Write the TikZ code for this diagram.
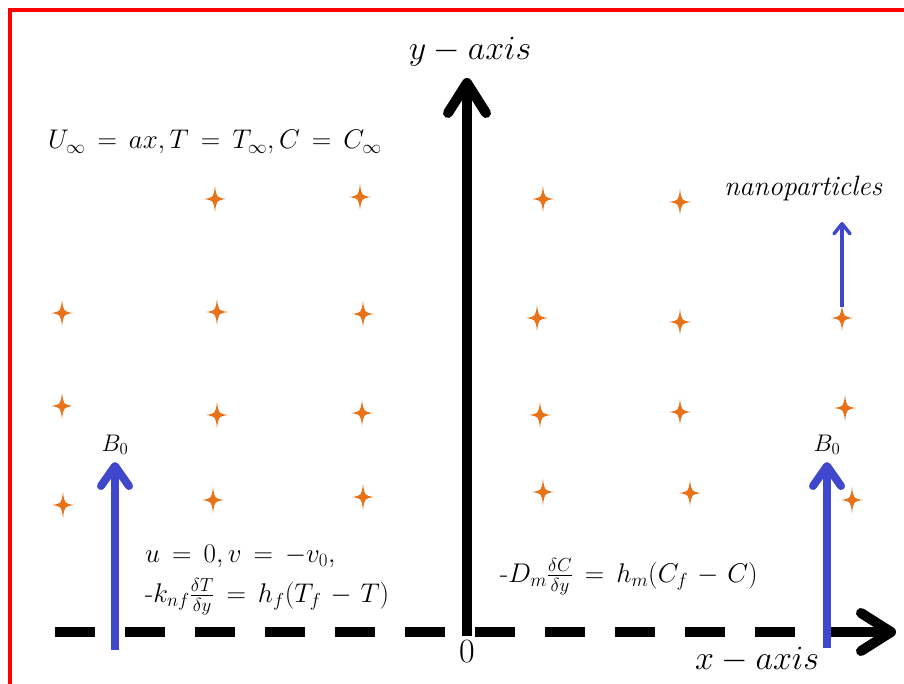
\documentclass[tikz,border=0pt]{standalone}
\usepackage{fix-cm}
\usetikzlibrary{arrows.meta}
\definecolor{fieldblue}{RGB}{63,72,204}
\definecolor{sparkorange}{RGB}{232,114,24}
\newcommand{\eqspacing}{\thickmuskip=8mu\relax\medmuskip=6mu\relax}

\begin{document}
\begin{tikzpicture}[x=1pt,y=-1pt,
  axis/.style={line width=10pt, -{Straight Barb[length=30pt,width=38pt,round]}},
  field/.style={color=fieldblue, line width=8pt, -{Straight Barb[length=20pt,width=28pt,round]}},
  spark/.pic={\fill[sparkorange] (0,-13) .. controls (1.5,-1.5) .. (11,0) .. controls (1.5,1.5) .. (0,13) .. controls (-1.5,1.5) .. (-11,0) .. controls (-1.5,-1.5) .. cycle;},
  big/.style={font=\fontsize{34}{40}\selectfont},
  eq/.style={font=\fontsize{27}{32}\selectfont\eqspacing, anchor=base west, inner sep=0pt},
  bees/.style={font=\fontsize{24}{28}\selectfont, anchor=south, inner sep=7pt}]
\useasboundingbox (0,0) rectangle (904,684);
\draw[color=red, line width=3.5pt] (10,684) -- (10,10) -- (904,10);

\coordinate (O) at (467,636);
\coordinate (ytip) at (467,78);
\coordinate (xstart) at (55,632);
\coordinate (xend) at (830,632);
\coordinate (xtip) at (896,632);
\draw[line width=10pt, dash pattern=on 40pt off 30pt] (xstart) -- (xend);
\draw[axis] (xend) -- (xtip);
\draw[axis] (O) -- (ytip);
\draw (470,52) node[big] (ylab) {$y-axis$};
\draw (757,660) node[big] (xlab) {$x-axis$};
\draw (467,652) node[big] (zero) {$0$};

\pic at (215,199) {spark};
\pic at (360,197) {spark};
\pic at (543,199) {spark};
\pic at (680,202) {spark};
\pic at (62,313) {spark};
\pic at (217,312) {spark};
\pic at (363,314) {spark};
\pic at (537,318) {spark};
\pic at (680,322) {spark};
\pic at (842,318) {spark};
\pic at (62,406) {spark};
\pic at (217,415) {spark};
\pic at (362,413) {spark};
\pic at (540,415) {spark};
\pic at (680,412) {spark};
\pic at (845,408) {spark};
\pic at (63,505) {spark};
\pic at (213,500) {spark};
\pic at (363,497) {spark};
\pic at (543,492) {spark};
\pic at (690,493) {spark};
\pic at (852,500) {spark};

\draw (115,462) node[bees] (Bleft) {$B_0$};
\draw (827,462) node[bees] (Bright) {$B_0$};
\coordinate (bl) at (115,650);
\coordinate (br) at (827,648);
\draw[field] (bl) -- (Bleft.south);
\draw[field] (br) -- (Bright.south);

\draw (803,189) node[font=\fontsize{28}{32}\selectfont\itshape] (nano) {nanoparticles};
\coordinate (n1) at (842,307);
\coordinate (n2) at (842,222);
\draw[color=fieldblue, line width=3.5pt, -{Straight Barb[length=10pt,width=16pt,round]}] (n1) -- (n2);

\draw (48,149) node[eq] (inf) {$U_\infty = ax, T = T_\infty, C = C_\infty$};
\draw (145,562) node[eq] (wall1) {$u = 0, v = -v_0,$};
\draw (145,602) node[eq] (wall2) {-$k_{nf}\frac{\delta T}{\delta y} = h_f(T_f - T)$};
\draw (500,582) node[eq] (wall3) {-$D_m\frac{\delta C}{\delta y} = h_m(C_f - C)$};

\end{tikzpicture}
\end{document}
